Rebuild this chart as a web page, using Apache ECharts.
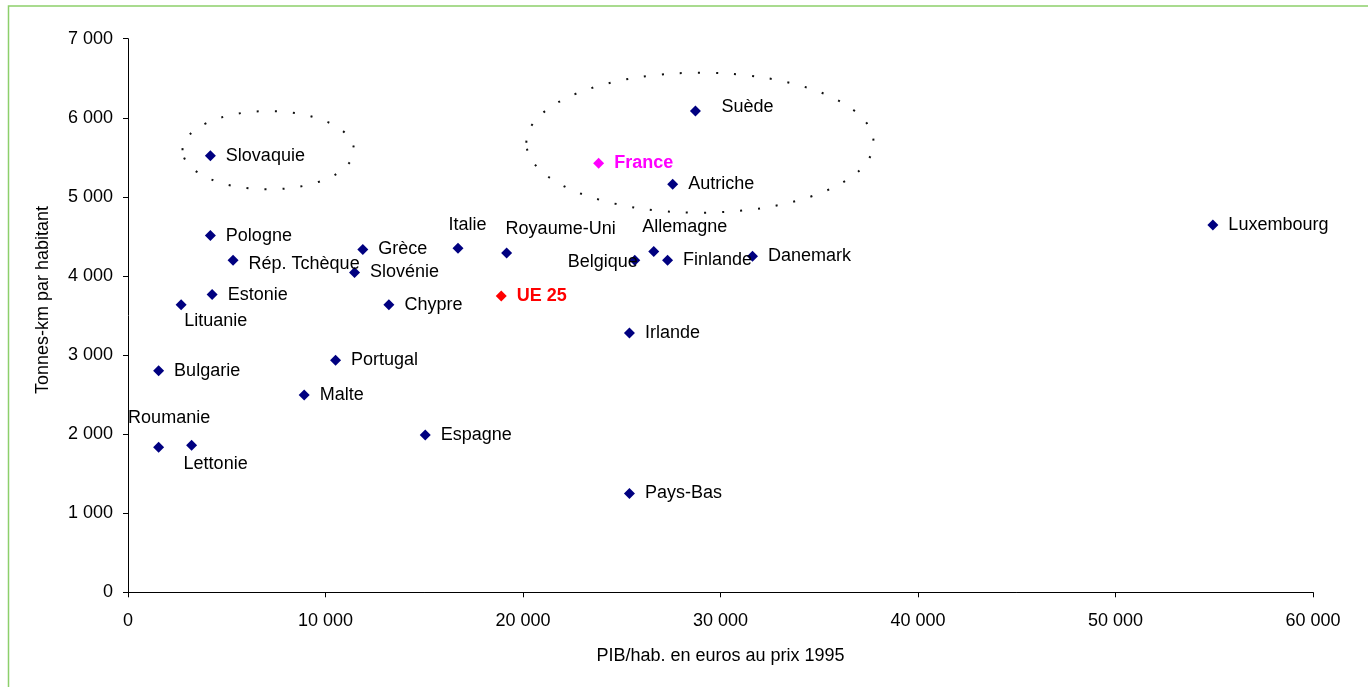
<!DOCTYPE html>
<html>
<head>
<meta charset="utf-8">
<script src="https://cdn.jsdelivr.net/npm/echarts@6/dist/echarts.min.js"></script>
<style>
html,body{margin:0;padding:0;background:#fff;}
#chart{width:1368px;height:687px;}
</style>
</head>
<body>
<div id="chart"></div>
<script>
// ---- Data ----
const countries = ['Slovaquie','Suède','France','Autriche','Luxembourg','Pologne','Rép. Tchèque','Grèce','Slovénie','Estonie','Lituanie','Chypre','Italie','Royaume-Uni','Belgique','Allemagne','Finlande','Danemark','UE 25','Irlande','Bulgarie','Portugal','Malte','Roumanie','Lettonie','Espagne','Pays-Bas'];
const pibParHab = [4170,28730,23830,27580,54930,4170,5320,11890,11470,4260,2690,13210,16710,19170,25660,26620,27320,31620,18900,25390,1550,10510,8920,1550,3220,15050,25390];
const tkmParHab = [5520,6085,5425,5160,4645,4510,4200,4335,4045,3765,3635,3635,4350,4290,4200,4310,4200,4250,3745,3280,2800,2935,2495,1835,1860,1990,1250];
const xTickLabels = ['0','10 000','20 000','30 000','40 000','50 000','60 000'];
const yTickLabels = ['0','1 000','2 000','3 000','4 000','5 000','6 000','7 000'];
// highlighted groups (centre x, centre y, half-width, half-height in data units)
const groupEllipses = [[7100,5590,4340,495],[28960,5685,8790,885]];

// ---- Styles ----
const FONT = '"Liberation Sans", Arial, sans-serif';
const specialColors = {'France':'#FF00FF','UE 25':'#FF0000'};
const labelLayout = {
  'Suède':{position:'right',offset:[10.5,-4]},
  'Rép. Tchèque':{position:'right',offset:[0,4]},
  'Lituanie':{position:'right',offset:[-12.5,16]},
  'Italie':{position:'right',offset:[-25,-23]},
  'Royaume-Uni':{position:'right',offset:[-16.5,-24]},
  'Allemagne':{position:'right',offset:[-27,-24]},
  'Belgique':{position:'left',offset:[18.5,2]},
  'Roumanie':{position:'right',offset:[-46,-29]},
  'Lettonie':{position:'right',offset:[-23.5,19]}
};

const points = countries.map((name,i)=>{
  const item = {name:name, value:[pibParHab[i], tkmParHab[i]]};
  const lay = labelLayout[name] || {position:'right',offset:[0,0]};
  item.label = {position:lay.position, offset:lay.offset};
  if (specialColors[name]) {
    item.itemStyle = {color:specialColors[name], opacity:1};
    item.label.color = specialColors[name];
    item.label.fontWeight = 'bold';
  }
  return item;
});

const chart = echarts.init(document.getElementById('chart'), null, {renderer:'canvas'});
chart.setOption({
  animation:false,
  backgroundColor:'#ffffff',
  grid:{left:128, right:55, top:38.7, bottom:94.7, containLabel:false},
  xAxis:{
    type:'value', min:0, max:60000, interval:10000,
    axisLine:{show:true, lineStyle:{color:'#000', width:1}},
    axisTick:{show:true, length:5, inside:false, lineStyle:{color:'#000'}},
    splitLine:{show:false},
    axisLabel:{margin:20, color:'#000', fontFamily:FONT, fontSize:18,
      formatter:(v)=>xTickLabels[Math.round(v/10000)]},
    name:'PIB/hab. en euros au prix 1995', nameLocation:'middle', nameGap:55,
    nameTextStyle:{color:'#000', fontFamily:FONT, fontSize:18}
  },
  yAxis:{
    type:'value', min:0, max:7000, interval:1000,
    axisLine:{show:true, lineStyle:{color:'#000', width:1}},
    axisTick:{show:true, length:5, inside:false, lineStyle:{color:'#000'}},
    splitLine:{show:false},
    axisLabel:{margin:15, color:'#000', fontFamily:FONT, fontSize:18,
      formatter:(v)=>yTickLabels[Math.round(v/1000)]}
  },
  graphic:[
    {type:'rect', shape:{x:8.5, y:6, width:1400, height:720}, style:{fill:'none', stroke:'#8DCF6B', lineWidth:1.5}, silent:true, z:-1},
    {type:'text', x:43, y:300, rotation:Math.PI/2, style:{text:'Tonnes-km par habitant', fill:'#000', font:'18px '+FONT, textAlign:'center', textVerticalAlign:'middle'}}
  ],
  series:[
    {
      type:'custom',
      silent:true,
      z:1,
      data:groupEllipses,
      renderItem:function(params, api){
        const c = api.coord([api.value(0), api.value(1)]);
        const s = api.size([api.value(2), api.value(3)]);
        return {type:'ellipse', shape:{cx:c[0], cy:c[1], rx:s[0], ry:s[1]},
          style:{fill:'none', stroke:'#111', lineWidth:2, lineDash:[2,16]}};
      }
    },
    {
      type:'scatter',
      symbol:'diamond',
      symbolSize:11,
      z:3,
      itemStyle:{color:'#000080', opacity:1},
      label:{show:true, formatter:'{b}', color:'#000', fontFamily:FONT, fontSize:18, distance:10},
      emphasis:{disabled:true},
      data:points
    }
  ]
});
</script>
</body>
</html>
